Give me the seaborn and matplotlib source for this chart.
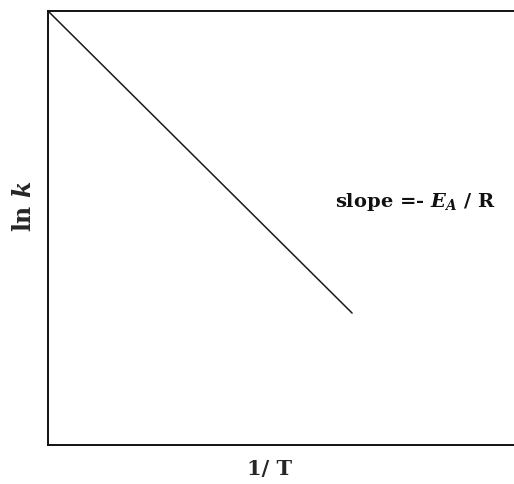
import matplotlib
matplotlib.use("Agg")
import matplotlib.pyplot as plt
import seaborn as sns
import pandas as pd

# Arrhenius plot, ln k vs 1/T (arbitrary units)
inv_T = [0.0, 6.47]
ln_k = [10.0, 3.04]

sns.set_style("white")
plt.rcParams["font.family"] = ["DejaVu Serif"]
plt.rcParams["mathtext.fontset"] = "dejavuserif"

df = pd.DataFrame({"inv_T": inv_T, "ln_k": ln_k})

fig = plt.figure(figsize=(5.14, 4.84), dpi=100)
ax = fig.add_axes([48 / 514, 39 / 484, 470 / 514, 434 / 484])
sns.lineplot(data=df, x="inv_T", y="ln_k", color="#1a1a1a", linewidth=1.1, ax=ax)

ax.set_xlim(0, 10)
ax.set_ylim(0, 10)
ax.set_xticks([])
ax.set_yticks([])
ax.spines["right"].set_visible(False)
for s in ["left", "top", "bottom"]:
    ax.spines[s].set_color("#111111")
    ax.spines[s].set_linewidth(1.4)

ax.set_xlabel("1/ T", fontsize=15, fontweight="bold")
ax.xaxis.set_label_coords(0.472, -0.033)
ax.set_ylabel(r"ln $\mathbfit{k}$", fontsize=17, fontweight="bold")
ax.yaxis.set_label_coords(-0.025, 0.55)
ax.text(6.1, 5.6, r"slope =- $\mathbfit{E}_{\mathbfit{A}}$ / R", fontsize=14,
        fontweight="bold", ha="left", va="center", color="#111111")

fig.savefig("out.png", dpi=100)
